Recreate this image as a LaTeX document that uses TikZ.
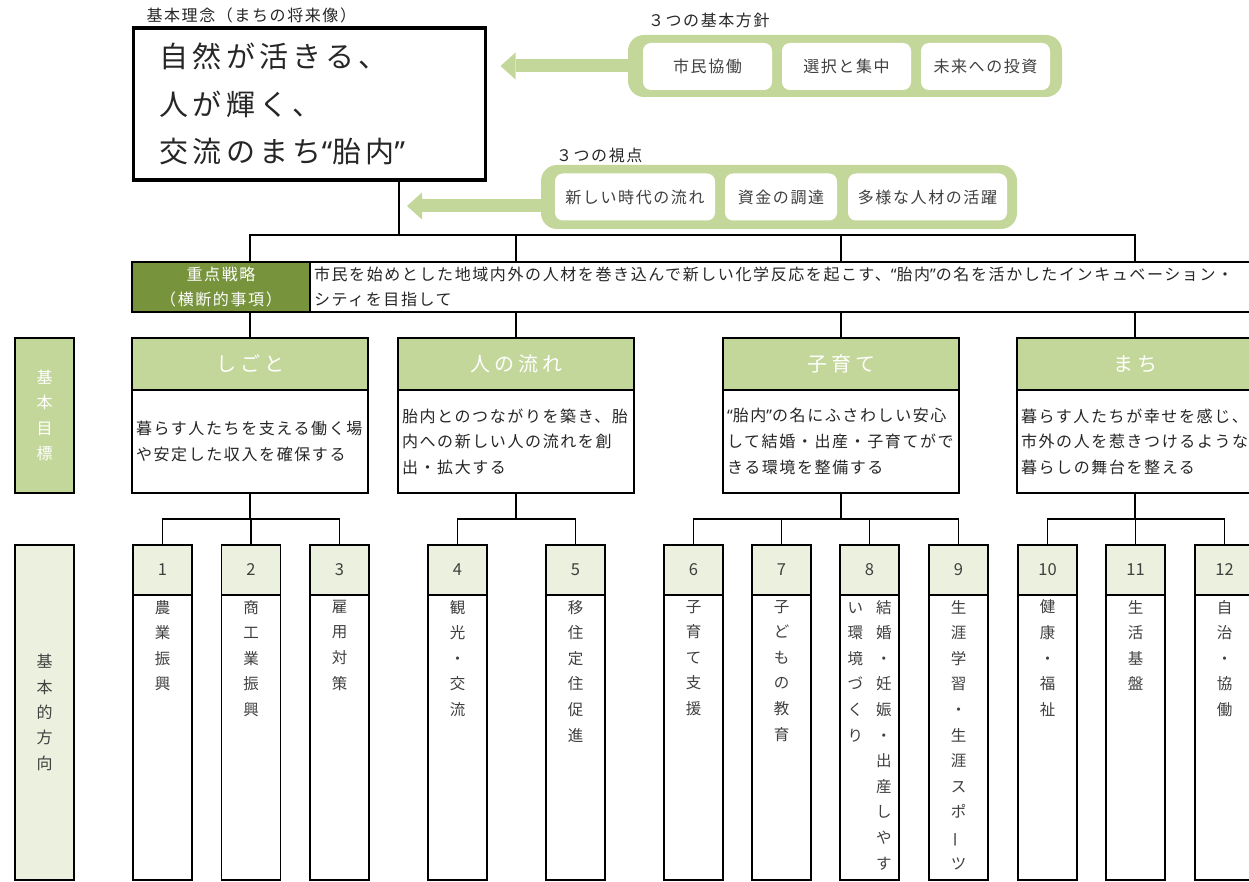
\documentclass[tikz,border=0pt]{standalone}
\usepackage{fontspec}
\setmainfont{Noto Sans CJK JP}
\newfontfamily\bodyfont[LetterSpace=10]{Noto Sans CJK JP}
\newfontfamily\headfont[LetterSpace=20]{Noto Sans CJK JP}
\newfontfamily\visionfont[LetterSpace=15]{Noto Sans CJK JP}
\newfontfamily\quotefont{Noto Sans}
\usetikzlibrary{positioning, arrows.meta}
\pgfdeclarelayer{bg}
\pgfsetlayers{bg,main}
\definecolor{leaf}{RGB}{196,215,155}
\definecolor{paleleaf}{RGB}{235,241,222}
\definecolor{darkleaf}{RGB}{119,147,60}
\definecolor{ink}{RGB}{64,64,64}
\newcommand\qo{{\quotefont “}}
\newcommand\qc{{\quotefont ”}}
\newcommand\tatebar{\rotatebox[origin=c]{90}{ー}}
\newcommand\vcol[1]{\parbox[c][283pt][t]{57pt}{\centering\vspace*{4pt}#1}}
\tikzset{
	vision/.style = {rectangle, draw = black, line width = 3.5pt, minimum height = 152pt, text width = 300pt, inner xsep = 26pt, align = left, text = black!85, font = \visionfont\fontsize{29}{47.5}\selectfont},
	greenframe/.style = {rectangle, rounded corners = 16pt, fill = leaf},
	pill/.style = {rectangle, rounded corners = 8pt, fill = white, minimum height = 47pt, text = ink, font = \bodyfont\fontsize{16}{20}\selectfont},
	titletext/.style = {inner sep = 0pt, anchor = south west, text = black!85, font = \bodyfont\fontsize{16}{20}\selectfont},
	strat/.style = {rectangle, draw = black, line width = 1.6pt, fill = darkleaf, text = white, minimum width = 178pt, minimum height = 50pt, align = center, font = \bodyfont\fontsize{16}{25}\selectfont},
	strattxt/.style = {rectangle, draw = black, line width = 1.6pt, fill = white, text = black!85, minimum height = 50pt, text width = 940pt, inner xsep = 4pt, align = left, font = \bodyfont\fontsize{16}{25.6}\selectfont},
	goalhead/.style = {rectangle, draw = black, line width = 1.6pt, fill = leaf, text = white, minimum width = 236pt, minimum height = 52pt, font = \headfont\fontsize{20}{24}\selectfont},
	goaltxt/.style = {rectangle, draw = black, line width = 1.6pt, fill = white, text = black!85, minimum height = 103pt, text width = 228pt, inner xsep = 4pt, align = left, font = \bodyfont\fontsize{16}{25.6}\selectfont},
	sidebox/.style = {rectangle, draw = black, line width = 1.6pt, minimum width = 59pt, align = center, font = \fontsize{16}{25.3}\selectfont},
	dirnum/.style = {rectangle, draw = black, line width = 1.6pt, fill = paleleaf, text = ink, minimum width = 59pt, minimum height = 50pt, font = \fontsize{16.5}{20}\selectfont},
	dirtxt/.style = {rectangle, draw = black, line width = 1.6pt, fill = white, text = ink, inner sep = 1pt, font = \fontsize{15.5}{25.6}\selectfont},
	link/.style = {draw = black, line width = 1.6pt},
	bigarrow/.style = {draw = leaf, line width = 13pt, -{Triangle[length = 15pt, width = 27pt, line width = 0pt]}}
}

\begin{document}
\begin{tikzpicture}[x = 1pt, y = -1pt, outer sep = 0pt]
	\useasboundingbox (0,0) rectangle (1249,882);
	\clip (0,0) rectangle (1249,882);
	
	%% vision
	\node (vision) [vision] at (309.5,104) {自然が活きる、\\人が輝く、\\交流のまち\qo 胎内\qc};
	\node (visiontitle) [titletext] at ([xshift = 13pt, yshift = 5pt]vision.north west) {基本理念（まちの将来像）};
	
	%% three policies
	\node (hoshin) [greenframe, minimum width = 434pt, minimum height = 62pt] at (845,66) {};
	\node (hoshintitle) [titletext] at ([xshift = 20pt, yshift = 7pt]hoshin.north west) {３つの基本方針};
	\node (kyodo) [pill, minimum width = 129pt] at (707.5,66.5) {市民協働};
	\node (sentaku) [pill, minimum width = 129pt, right = 10pt of kyodo] {選択と集中};
	\node (toshi) [pill, minimum width = 129pt, right = 10pt of sentaku] {未来への投資};
	
	%% three viewpoints
	\node (shiten) [greenframe, minimum width = 476pt, minimum height = 64pt] at (779,197) {};
	\node (shitentitle) [titletext] at ([xshift = 15pt, yshift = 2pt]shiten.north west) {３つの視点};
	\node (nagare) [pill, minimum width = 160pt] at (635,197) {新しい時代の流れ};
	\node (chotatsu) [pill, minimum width = 112pt, right = 10pt of nagare] {資金の調達};
	\node (jinzai) [pill, minimum width = 159pt, right = 11pt of chotatsu] {多様な人材の活躍};
	
	\coordinate (hub) at (399,235);
	\coordinate (shitenout) at ([yshift = -9pt]shiten.west);
	
	%% arrows
	\draw [bigarrow, shorten > = 15pt] (hoshin.west) -- (hoshin.west -| vision.east);
	\draw [bigarrow, shorten > = 8pt] (shitenout) -- (shitenout -| hub);
	
	%% strategy
	\node (juten) [strat] at (221,287) {重点戦略\\（横断的事項）};
	\node (jutentxt) [strattxt, right = 0pt of juten] {市民を始めとした地域内外の人材を巻き込んで新しい化学反応を起こす、\qo 胎内\qc の名を活かしたインキュベーション・\\シティを目指して};
	
	%% goals
	\node (mokuhyo) [sidebox, fill = leaf, text = white, minimum height = 155pt] at (44.5,415.5) {基\\本\\目\\標};
	\node (shigoto) [goalhead] at (250,364) {しごと};
	\node (txtshigoto) [goaltxt, below = 0pt of shigoto] {暮らす人たちを支える働く場\\や安定した収入を確保する};
	\node (hito) [goalhead] at (516,364) {人の流れ};
	\node (txthito) [goaltxt, below = 0pt of hito] {胎内とのつながりを築き、胎\\内への新しい人の流れを創\\出・拡大する};
	\node (kosodate) [goalhead] at (841,364) {子育て};
	\node (txtkosodate) [goaltxt, below = 0pt of kosodate] {\qo 胎内\qc の名にふさわしい安心\\して結婚・出産・子育てがで\\きる環境を整備する};
	\node (machi) [goalhead] at (1135,364) {まち};
	\node (txtmachi) [goaltxt, below = 0pt of machi] {暮らす人たちが幸せを感じ、\\市外の人を惹きつけるような\\暮らしの舞台を整える};
	
	%% directions
	\node (hoko) [sidebox, fill = paleleaf, text = ink, minimum height = 335pt] at (44.5,712.5) {基\\本\\的\\方\\向};
	\node (d1) [dirnum] at (162.5,570) {1};
	\node (txtd1) [dirtxt, below = 0pt of d1] {\vcol{農\\業\\振\\興}};
	\node (d2) [dirnum] at (251,570) {2};
	\node (txtd2) [dirtxt, below = 0pt of d2] {\vcol{商\\工\\業\\振\\興}};
	\node (d3) [dirnum] at (339.5,570) {3};
	\node (txtd3) [dirtxt, below = 0pt of d3] {\vcol{雇\\用\\対\\策}};
	\node (d4) [dirnum] at (457.5,570) {4};
	\node (txtd4) [dirtxt, below = 0pt of d4] {\vcol{観\\光\\・\\交\\流}};
	\node (d5) [dirnum] at (575.5,570) {5};
	\node (txtd5) [dirtxt, below = 0pt of d5] {\vcol{移\\住\\定\\住\\促\\進}};
	\node (d6) [dirnum] at (693.5,570) {6};
	\node (txtd6) [dirtxt, below = 0pt of d6] {\vcol{子\\育\\て\\支\\援}};
	\node (d7) [dirnum] at (781.5,570) {7};
	\node (txtd7) [dirtxt, below = 0pt of d7] {\vcol{子\\ど\\も\\の\\教\\育}};
	\node (d8) [dirnum] at (869.5,570) {8};
	\node (txtd8) [dirtxt, below = 0pt of d8] {\parbox[c][283pt][t]{57pt}{\vspace*{4pt}\noindent\parbox[t]{28.5pt}{\centering い\\環\\境\\づ\\く\\り}\parbox[t]{28.5pt}{\centering 結\\婚\\・\\妊\\娠\\・\\出\\産\\し\\や\\す}}};
	\node (d9) [dirnum] at (958.5,570) {9};
	\node (txtd9) [dirtxt, below = 0pt of d9] {\vcol{生\\涯\\学\\習\\・\\生\\涯\\ス\\ポ\\\tatebar\\ツ}};
	\node (d10) [dirnum] at (1047.5,570) {10};
	\node (txtd10) [dirtxt, below = 0pt of d10] {\vcol{健\\康\\・\\福\\祉}};
	\node (d11) [dirnum] at (1135.5,570) {11};
	\node (txtd11) [dirtxt, below = 0pt of d11] {\vcol{生\\活\\基\\盤}};
	\node (d12) [dirnum] at (1224.5,570) {12};
	\node (txtd12) [dirtxt, below = 0pt of d12] {\vcol{自\\治\\・\\協\\働}};
	
	%% connectors
	\begin{pgfonlayer}{bg}
		\draw [link] (vision.south -| hub) -- (hub);
		\draw [link] (hub) -| (shigoto.north);
		\draw [link] (hub) -| (hito.north);
		\draw [link] (hub) -| (kosodate.north);
		\draw [link] (hub) -| (machi.north);
		\draw [link] (txtshigoto.south) -- ++(0,26) -| (d1.north);
		\draw [link] (txtshigoto.south) -- ++(0,26) -| (d2.north);
		\draw [link] (txtshigoto.south) -- ++(0,26) -| (d3.north);
		\draw [link] (txthito.south) -- ++(0,26) -| (d4.north);
		\draw [link] (txthito.south) -- ++(0,26) -| (d5.north);
		\draw [link] (txtkosodate.south) -- ++(0,26) -| (d6.north);
		\draw [link] (txtkosodate.south) -- ++(0,26) -| (d7.north);
		\draw [link] (txtkosodate.south) -- ++(0,26) -| (d8.north);
		\draw [link] (txtkosodate.south) -- ++(0,26) -| (d9.north);
		\draw [link] (txtmachi.south) -- ++(0,26) -| (d10.north);
		\draw [link] (txtmachi.south) -- ++(0,26) -| (d11.north);
		\draw [link] (txtmachi.south) -- ++(0,26) -| (d12.north);
	\end{pgfonlayer}
\end{tikzpicture}
\end{document}
